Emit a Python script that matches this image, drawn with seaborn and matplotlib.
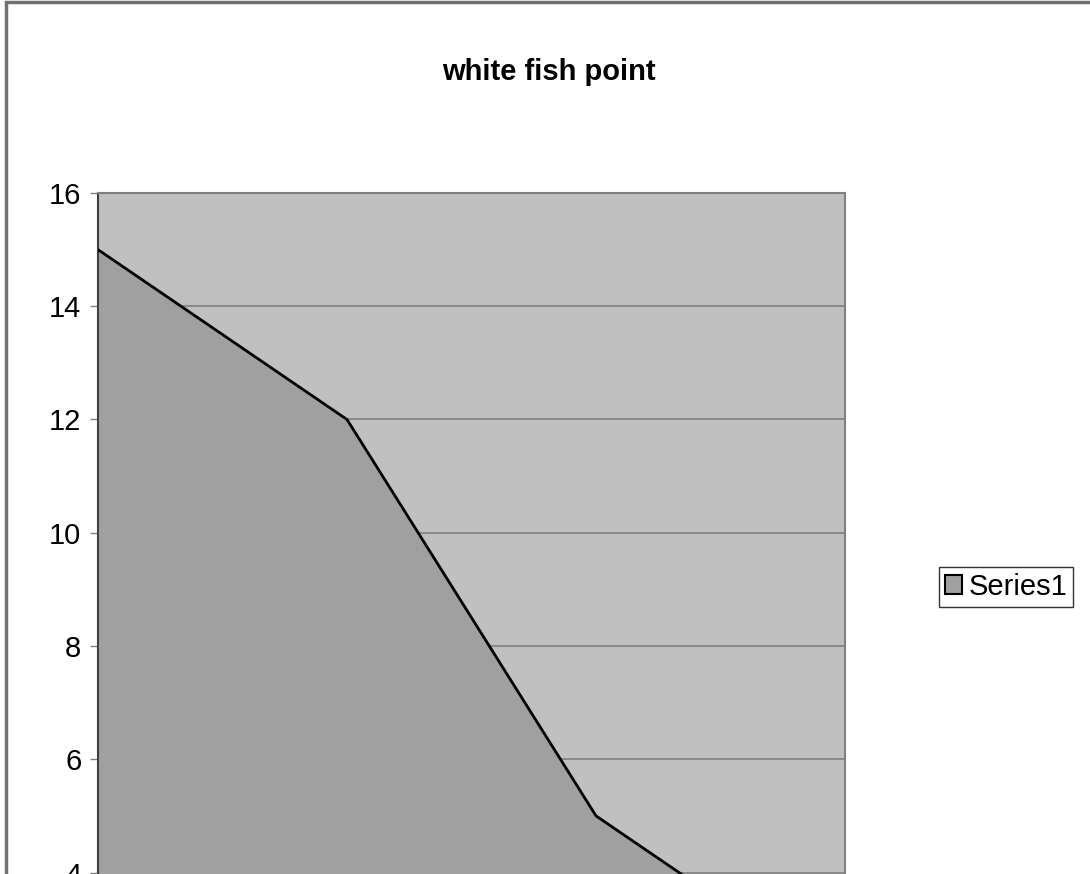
import seaborn as sns
import pandas as pd
import matplotlib.pyplot as plt
from matplotlib.patches import Patch, Rectangle

# data
categories = [1, 2, 3, 4]
positions = [0, 1, 2, 3]
values = [15, 12, 5, 2]
title = "white fish point"
series_name = "Series1"

data = pd.DataFrame({"pos": positions, "value": values, "category": categories})

sns.set_style("white")
plt.rcParams['font.family'] = ['Liberation Sans', 'DejaVu Sans']
plt.rcParams['text.color'] = 'black'
plt.rcParams['ytick.labelcolor'] = 'black'

fig = plt.figure(figsize=(10.9, 8.74), dpi=100)
# axes runs past the bottom of the figure, as in the cropped reference
ax = fig.add_axes([98 / 1090, (874 - 1099) / 874, (845 - 98) / 1090, (1099 - 193) / 874])
ax.set_facecolor("#c0c0c0")

ax.fill_between(data["pos"], data["value"], 0, color="#a0a0a0", zorder=2)
sns.lineplot(data=data, x="pos", y="value", ax=ax, color="black", linewidth=2, zorder=3)

ax.set_xlim(0, 3)
ax.set_ylim(0, 16)
ax.set_yticks(range(0, 17, 2))
# category labels sit below the visible crop
ax.set_xticks(positions)
ax.set_xticklabels([])
ax.set_xlabel("")
ax.set_ylabel("")
ax.yaxis.grid(True, color="#808080", linewidth=1.2, zorder=1)
ax.set_axisbelow(True)
ax.tick_params(axis="y", labelsize=21, length=6, width=1, color="#808080", pad=6, left=True,
               labelcolor="black")
for s in ax.spines.values():
    s.set_color("#808080")
    s.set_linewidth(1.5)
ax.spines["left"].set_color("#404040")

fig.text(549 / 1090, 1 - 72 / 874, title, ha="center", va="center", fontsize=21,
         fontweight="bold", color="black")

handle = Patch(facecolor="#a0a0a0", edgecolor="black", linewidth=1.5)
leg = fig.legend([handle], [series_name], loc="center", bbox_to_anchor=(1006 / 1090, 1 - 587 / 874),
                 fontsize=21, frameon=True, fancybox=False, edgecolor="black",
                 handlelength=0.6, handleheight=0.6, handletextpad=0.2, borderpad=0.2,
                 borderaxespad=0, labelcolor="black")
leg.get_frame().set_linewidth(1)

# outer chart border, cut off at right and bottom
fig.patches.append(Rectangle((6 / 1090, -0.5), 2, 1.5 - 2 / 874, transform=fig.transFigure,
                             fill=False, edgecolor="#707070", linewidth=2.5))

fig.savefig("out.png", dpi=100)
